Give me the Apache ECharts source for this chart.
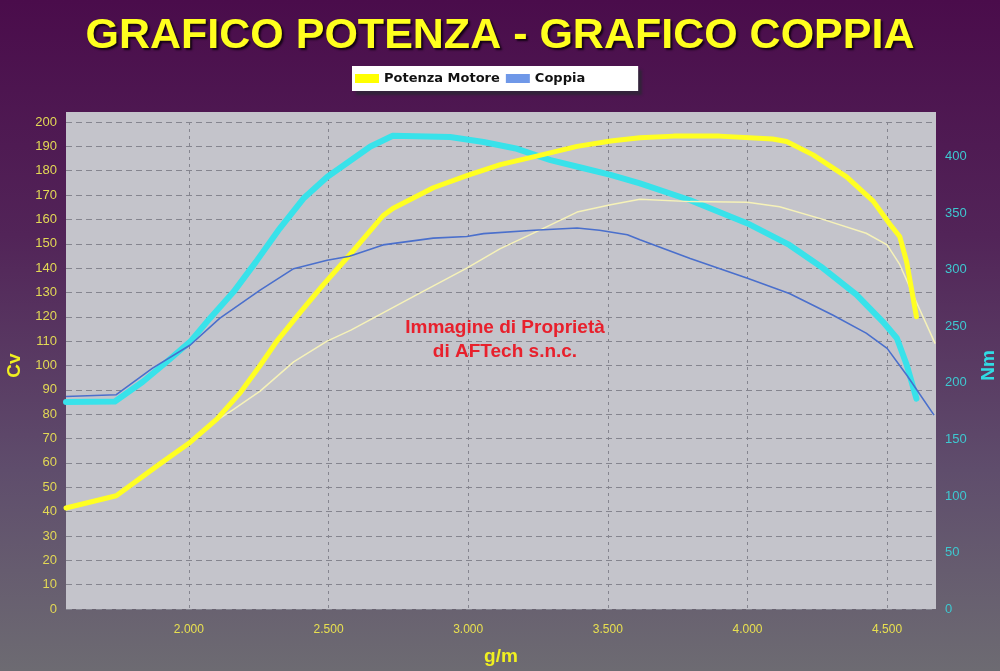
<!DOCTYPE html>
<html>
<head>
<meta charset="utf-8">
<script src="https://cdn.jsdelivr.net/npm/echarts@6/dist/echarts.min.js"></script>
<style>
html,body{margin:0;padding:0;background:#4a0d4c;}
#c{width:1000px;height:671px;}
</style>
</head>
<body>
<div id="c"></div>
<script>
// ---- data (rpm / values) ----
const titleText = 'GRAFICO POTENZA - GRAFICO COPPIA';
const legendNames = ['Potenza Motore', 'Coppia'];
const watermarkLines = ['Immagine di Proprietà', 'di AFTech s.n.c.'];
const xTicks = [2000, 2500, 3000, 3500, 4000, 4500];

// Potenza Motore (thick yellow, Cv)
const potenzaRpm = [1560,1740,1895,2005,2100,2185,2255,2315,2400,2480,2580,2695,2730,2875,2995,3115,3245,3390,3510,3615,3735,3900,4090,4140,4235,4355,4450,4510,4545,4570,4605];
const potenzaCv  = [41.5,46.5,59.5,68.5,78,89,100,110,122,133,146,161.5,164.5,173,178,182.5,186,190,192.2,193.5,194.2,194.2,193,192,186.5,177.5,167.5,158,153,142.5,120];

// second power curve (thin pale yellow, Cv)
const potenza2Rpm = [1560,1740,1895,2005,2100,2160,2255,2375,2495,2580,2815,2995,3115,3245,3390,3510,3615,3795,4000,4115,4270,4425,4500,4545,4605,4672];
const potenza2Cv  = [41.5,46.5,59.5,68.5,77.5,82,89.5,101.5,110,114.5,129,140,148,155,163,166,168.3,167.3,167,165.2,160,154.3,149.5,141.5,126,109];

// Coppia thick cyan (Nm)
const coppiaRpm = [1560,1735,1835,1920,2005,2075,2160,2240,2325,2410,2495,2575,2650,2730,2935,3055,3175,3295,3410,3510,3615,3795,4000,4150,4270,4390,4485,4535,4570,4605];
const coppiaNm  = [183,183.5,201,218.5,236.5,257,280.5,307,336.5,363,382,396,409,418.5,417.5,413,407,397,390,384,376.5,361.5,341,322,301.5,278,254,239.5,216,186];

// Coppia thin blue (Nm)
const coppia2Rpm = [1560,1740,1870,2005,2110,2255,2375,2495,2575,2695,2875,2995,3055,3235,3390,3470,3570,3615,3795,4000,4150,4305,4425,4500,4570,4668];
const coppia2Nm  = [188,189.5,213,233.5,257,282,301,308.5,312,322,328,329.5,332,335,337,335,331,326.5,310,292.5,279,260,244,230.5,207,171.5];

const pairs = (xs, ys) => xs.map((x, i) => [x, ys[i]]);
const fmtRpm = v => Math.floor(v / 1000) + '.' + String(v % 1000).padStart(3, '0');

const chart = echarts.init(document.getElementById('c'), null, {renderer: 'canvas'});

const option = {
  backgroundColor: {
    type: 'linear', x: 0, y: 0, x2: 0, y2: 1,
    colorStops: [
      {offset: 0, color: '#4a0c4b'},
      {offset: 0.35, color: '#522458'},
      {offset: 0.7, color: '#5f4d6c'},
      {offset: 1, color: '#6d6b72'}
    ]
  },
  animation: false,
  title: {
    text: titleText,
    left: 'center',
    top: 10,
    textStyle: {
      fontFamily: 'Liberation Sans',
      fontWeight: 'bold',
      fontSize: 43,
      color: '#ffff1e',
      textShadowColor: 'rgba(10,0,10,0.85)',
      textShadowOffsetX: 2,
      textShadowOffsetY: 2,
      textShadowBlur: 2
    }
  },
  legend: {
    left: 352,
    top: 66,
    padding: [6, 53, 6, 3],
    itemGap: 6,
    itemWidth: 24,
    itemHeight: 9,
    backgroundColor: '#ffffff',
    shadowColor: 'rgba(40,40,50,0.7)',
    shadowOffsetX: 4,
    shadowOffsetY: 4,
    shadowBlur: 2,
    borderRadius: 0,
    icon: 'rect',
    data: [
      {name: legendNames[0], itemStyle: {color: '#ffff00'}},
      {name: legendNames[1], itemStyle: {color: '#6f98e8'}}
    ],
    textStyle: {
      fontFamily: 'DejaVu Sans',
      fontWeight: 'bold',
      fontSize: 13,
      color: '#111111'
    },
    selectedMode: false
  },
  grid: {
    left: 66,
    right: 64,
    top: 122,
    bottom: 62,
    containLabel: false,
    outerBoundsMode: 'none'
  },
  graphic: [
    {
      type: 'rect',
      z: -100,
      silent: true,
      shape: {x: 66, y: 112, width: 870, height: 497},
      style: {fill: '#c4c4cb'}
    },
    {
      type: 'text',
      z: 100,
      silent: true,
      style: {
        x: 505,
        y: 340,
        text: watermarkLines.join('\n'),
        align: 'center',
        verticalAlign: 'middle',
        fontFamily: 'Liberation Sans',
        fontWeight: 'bold',
        fontSize: 19,
        lineHeight: 24,
        fill: '#e8202c'
      }
    }
  ],
  xAxis: {
    type: 'value',
    min: 1560,
    max: 4675,
    name: 'g/m',
    nameLocation: 'middle',
    nameGap: 38,
    nameTextStyle: {
      fontFamily: 'Liberation Sans',
      fontWeight: 'bold',
      fontSize: 19,
      color: '#f0f020'
    },
    axisLine: {show: false},
    axisTick: {show: false, customValues: xTicks},
    axisLabel: {
      customValues: xTicks,
      formatter: fmtRpm,
      margin: 15,
      fontFamily: 'Liberation Sans',
      fontSize: 12,
      color: '#e8e050'
    },
    splitLine: {
      show: true,
      lineStyle: {color: '#85858f', width: 1, type: [3, 4]}
    }
  },
  yAxis: [
    {
      type: 'value',
      min: 0,
      max: 200,
      interval: 10,
      name: 'Cv',
      nameLocation: 'middle',
      nameGap: 39,
      nameRotate: 90,
      nameTextStyle: {
        fontFamily: 'Liberation Sans',
        fontWeight: 'bold',
        fontSize: 19,
        color: '#f0f020'
      },
      axisLine: {show: false},
      axisTick: {show: false},
      axisLabel: {
        margin: 9,
        fontFamily: 'Liberation Sans',
        fontSize: 13,
        color: '#e2d855'
      },
      splitLine: {
        show: true,
        lineStyle: {color: '#85858f', width: 1, type: [6, 4]}
      }
    },
    {
      type: 'value',
      min: 0,
      max: 430.7,
      interval: 50,
      position: 'right',
      name: 'Nm',
      nameLocation: 'middle',
      nameGap: 43,
      nameRotate: 90,
      nameTextStyle: {
        fontFamily: 'Liberation Sans',
        fontWeight: 'bold',
        fontSize: 19,
        color: '#30dce4'
      },
      axisLine: {show: false},
      axisTick: {show: false},
      axisLabel: {
        margin: 9,
        showMaxLabel: false,
        fontFamily: 'Liberation Sans',
        fontSize: 13,
        color: '#3ec8d0'
      },
      splitLine: {show: false}
    }
  ],
  series: [
    {
      name: 'Coppia (rif.)',
      type: 'line',
      yAxisIndex: 1,
      data: pairs(coppiaRpm, coppiaNm),
      symbol: 'none',
      lineStyle: {color: '#38e2ea', width: 6, cap: 'round', join: 'round'},
      z: 2
    },
    {
      name: 'Potenza (rif.)',
      type: 'line',
      yAxisIndex: 0,
      data: pairs(potenza2Rpm, potenza2Cv),
      symbol: 'none',
      lineStyle: {color: '#f6f2b8', width: 1.5, join: 'round'},
      z: 3
    },
    {
      name: legendNames[0],
      type: 'line',
      yAxisIndex: 0,
      data: pairs(potenzaRpm, potenzaCv),
      symbol: 'none',
      itemStyle: {color: '#ffff00'},
      lineStyle: {color: '#ffff22', width: 5, cap: 'round', join: 'round'},
      z: 4
    },
    {
      name: legendNames[1],
      type: 'line',
      yAxisIndex: 1,
      data: pairs(coppia2Rpm, coppia2Nm),
      symbol: 'none',
      itemStyle: {color: '#6f98e8'},
      lineStyle: {color: '#4a6fcc', width: 1.6, join: 'round'},
      z: 5
    }
  ]
};
chart.setOption(option);
</script>
</body>
</html>
